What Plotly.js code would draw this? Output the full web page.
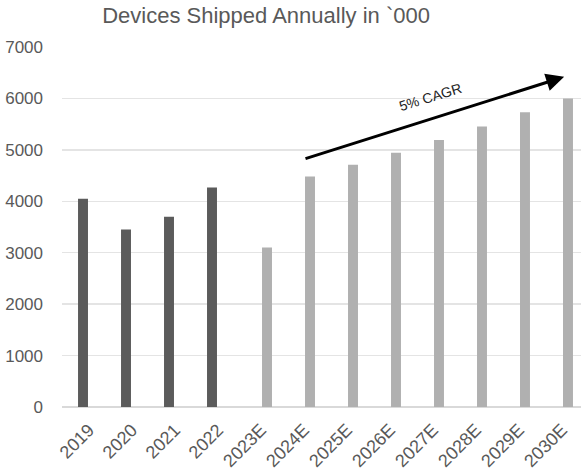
<!DOCTYPE html>
<html>
<head>
<meta charset="utf-8">
<script src="https://cdn.plot.ly/plotly-3.0.1.min.js"></script>
<style>
  html, body { margin: 0; padding: 0; background: #fff; }
  #chart { width: 581px; height: 475px; }
</style>
</head>
<body>
<div id="chart"></div>
<script>
// Annual device shipments (thousands): actuals and estimates
const years = ['2019', '2020', '2021', '2022', '2023E', '2024E', '2025E',
               '2026E', '2027E', '2028E', '2029E', '2030E'];
const actual = [4050, 3450, 3700, 4270, null, null, null, null, null, null, null, null];
const estimate = [null, null, null, null, 3100, 4480, 4710, 4945, 5190, 5455, 5730, 6000];

// CAGR arrow endpoints (category index, value)
const arrowFrom = [5.0, 4820];
const arrowTo = [11.05, 6420];
const cagrLabel = '5% CAGR';

const font = 'Liberation Sans, Arial, Helvetica, sans-serif';
const textGrey = '#595959';

const traces = [
  {
    type: 'bar', x: years, y: actual, name: 'Actual',
    marker: { color: '#5b5b5b' }, hoverinfo: 'x+y'
  },
  {
    type: 'bar', x: years, y: estimate, name: 'Estimate',
    marker: { color: '#b0b0b0' }, hoverinfo: 'x+y'
  }
];

const layout = {
  width: 581, height: 475,
  margin: { l: 62, r: 0, t: 47, b: 68 },
  paper_bgcolor: '#fff', plot_bgcolor: '#fff',
  showlegend: false,
  barmode: 'group', bargap: 0.442, bargroupgap: 0.17,
  font: { family: font, color: textGrey },
  title: {
    text: 'Devices Shipped Annually in `000',
    font: { family: font, size: 22, color: textGrey },
    xref: 'container', x: 0.458, xanchor: 'center',
    yref: 'container', y: 0.985, yanchor: 'top'
  },
  xaxis: {
    type: 'category', range: [-0.628, 11.442],
    tickangle: -45, tickfont: { size: 18, color: textGrey },
    showgrid: false, showline: false, ticks: '', zeroline: false,
    ticklabelstandoff: 8
  },
  yaxis: {
    range: [0, 7000], dtick: 1000, tickformat: 'd',
    tickfont: { size: 17, color: textGrey },
    gridcolor: '#e4e4e4', gridwidth: 1.5,
    zeroline: true, zerolinecolor: '#d9d9d9', zerolinewidth: 1.5,
    ticks: '', ticklabelstandoff: 18
  },
  annotations: [
    {
      x: arrowTo[0], y: arrowTo[1], xref: 'x', yref: 'y',
      ax: arrowFrom[0], ay: arrowFrom[1], axref: 'x', ayref: 'y',
      showarrow: true, arrowhead: 2, arrowsize: 1.2, arrowwidth: 3,
      arrowcolor: '#000', standoff: 0, startstandoff: 0, text: ''
    },
    {
      x: 7.94, y: 6030, xref: 'x', yref: 'y',
      text: cagrLabel, showarrow: false, textangle: -17,
      font: { family: font, size: 14, color: '#222' }
    }
  ]
};

Plotly.newPlot('chart', traces, layout, { displayModeBar: false, staticPlot: true });
</script>
</body>
</html>
